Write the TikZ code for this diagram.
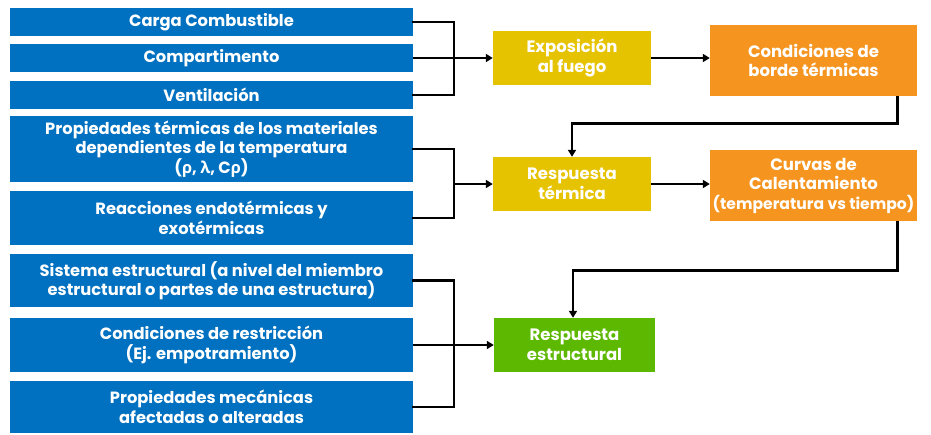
\documentclass[tikz,border=0pt]{standalone}
\usepackage{fontspec}
\setmainfont{Poppins}
\newfontfamily\greekf{Open Sans}
\usetikzlibrary{arrows.meta}
\definecolor{bluebox}{HTML}{0070C0}
\definecolor{yellowbox}{HTML}{E6C300}
\definecolor{orangebox}{HTML}{F59520}
\definecolor{greenbox}{HTML}{5CB800}
\tikzset{
  lbox/.style={fill=bluebox, text=white, font=\bfseries\fontsize{16.3}{19.5}\selectfont, align=center, minimum width=403pt, inner sep=0pt},
  cbox/.style={text=white, font=\bfseries\fontsize{16.5}{19.5}\selectfont, align=center, inner sep=0pt},
  conn/.style={line width=2.8pt, line cap=rect},
  arr/.style={line width=2.8pt, -{Triangle[length=7pt,width=8pt]}},
}
\begin{document}
\begin{tikzpicture}[x=1pt,y=-1pt]
\useasboundingbox (0,0) rectangle (931,434);
\node[lbox, minimum height=28pt] (b1) at (211.5,22) {Carga Combustible};
\node[lbox, minimum height=28pt] (b2) at (211.5,58) {Compartimento};
\node[lbox, minimum height=28pt] (b3) at (211.5,95) {Ventilación};
\node[lbox, minimum height=66pt] (b4) at (211.5,149) {Propiedades térmicas de los materiales\\dependientes de la temperatura\\({\greekf ρ}, {\greekf λ}, C{\greekf ρ})};
\node[lbox, minimum height=54pt] (b5) at (211.5,218) {Reacciones endotérmicas y\\exotérmicas};
\node[lbox, minimum height=53pt] (b6) at (211.5,280.5) {Sistema estructural (a nivel del miembro\\estructural o partes de una estructura)};
\node[lbox, minimum height=54pt] (b7) at (211.5,345) {Condiciones de restricción\\(Ej. empotramiento)};
\node[lbox, minimum height=52pt] (b8) at (211.5,407) {Propiedades mecánicas\\afectadas o alteradas};

\node[cbox, fill=yellowbox, minimum width=158pt, minimum height=54pt] (expo) at (572,58) {Exposición\\al fuego};
\node[cbox, fill=orangebox, minimum width=207pt, minimum height=71pt] (cond) at (813.5,60.5) {Condiciones de\\borde térmicas};
\node[cbox, fill=yellowbox, minimum width=158pt, minimum height=54pt] (respT) at (572,184) {Respuesta\\térmica};
\node[cbox, fill=orangebox, minimum width=207pt, minimum height=71pt] (curv) at (813.5,185.5) {Curvas de\\Calentamiento\\{\fontsize{15.6}{19.5}\selectfont(temperatura vs tiempo)}};
\node[cbox, fill=greenbox, minimum width=161pt, minimum height=54pt] (respE) at (574.5,345) {Respuesta\\estructural};

\coordinate (bus) at (454,0);
% group 1
\draw[conn] (b1.east) -- (b1.east -| bus) -- (b3.east -| bus) -- (b3.east);
\draw[arr] (b2.east) -- (expo.west);
\draw[arr] (expo.east) -- (cond.west |- expo.east);
\draw[arr] ([xshift=84pt]cond.south) -- ++(0,27) -| (respT.north);
% group 2
\draw[conn] (b4.east) -- (b4.east -| bus) -- (b5.east -| bus) -- (b5.east);
\draw[arr] (bus |- respT.west) -- (respT.west);
\draw[arr] (respT.east) -- (curv.west |- respT.east);
\draw[arr] ([xshift=84pt]curv.south) -- ++(0,49) -| ([xshift=-1.5pt]respE.north);
% group 3
\draw[conn] (b6.east) -- (b6.east -| bus) -- (b8.east -| bus) -- (b8.east);
\draw[arr] (b7.east) -- (respE.west);
\end{tikzpicture}
\end{document}
